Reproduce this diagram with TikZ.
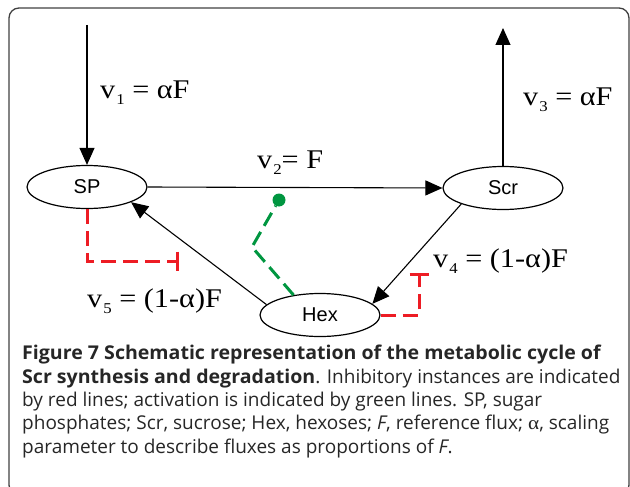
\documentclass[tikz,border=0pt]{standalone}
\usepackage{fontspec}
\setmainfont{Open Sans}[BoldFeatures={FakeStretch=1.03}]
\newfontfamily\labelfont[FakeStretch=1.12]{Liberation Serif}
\newfontfamily\nodefont{Liberation Sans}
\usetikzlibrary{arrows.meta, shapes.geometric}
\definecolor{inhred}{RGB}{237,28,36}
\definecolor{actgreen}{RGB}{0,150,64}
\newcommand{\flux}[2]{v\hspace{1pt}\raisebox{-6pt}{\fontsize{15}{15}\selectfont #1}#2}

\begin{document}
\begin{tikzpicture}[x=1pt, y=-1pt,
  pool/.style={ellipse, draw, line width=1.2pt, minimum width=120pt, minimum height=43pt, inner sep=0pt, font=\nodefont\fontsize{20}{20}\selectfont},
  flow/.style={-{Triangle[length=17pt, width=15pt]}, line width=1.1pt},
  inhib/.style={-{Bar[width=19pt, line width=3pt]}, inhred, line width=3pt, dash pattern=on 15pt off 7pt},
  activ/.style={actgreen, line width=3pt, dash pattern=on 15pt off 7pt},
  rate/.style={font=\labelfont\fontsize{27}{27}\selectfont, inner sep=0pt, anchor=base west}]
  \useasboundingbox (0,0) rectangle (630,487);
  \draw[rounded corners=10pt, line width=1.3pt, black!75] (9,8) rectangle (629,495);

  % pools
  \node[pool] (sp) at (87,187) {SP};
  \node[pool] (scr) at (503,188) {Scr};
  \node[pool] (hex) at (320,315) {Hex};
  \coordinate (src) at (87,25);
  \coordinate (sink) at (503,28);

  % fluxes
  \draw[flow] (src) -- (sp.north);
  \draw[flow] (sp.east) -- (scr.west);
  \draw[flow] (scr.north) -- (sink);
  \draw[flow] (scr.201) -- (hex.12);
  \draw[flow] (hex.169) -- (sp.341);
  \node[rate] (v1) at (100,99) {\flux{1}{ = αF}};
  \node[rate] (v2) at (257,168) {\flux{2}{= F}};
  \node[rate] (v3) at (523,106) {\flux{3}{ = αF}};
  \node[rate] (v4) at (433,267) {\flux{4}{ = (1-α)F}};
  \node[rate] (v5) at (87,307) {\flux{5}{ = (1-α)F}};

  % regulation
  \coordinate (t5) at (179,261);
  \coordinate (t4) at (419,273);
  \coordinate (bend) at (252,247);
  \node[circle, fill=actgreen, minimum size=13pt, inner sep=0pt] (act) at (279,200) {};
  \draw[inhib] (sp.south) |- (t5);
  \draw[inhib] (hex.east) -| (t4);
  \draw[activ] (hex.143) -- (bend) -- (act);

  % caption
  \node[anchor=north west, align=left, inner sep=0pt, text=black!85, font=\fontsize{19}{23.4}\selectfont] (cap) at (22,345) {%
    \textbf{Figure 7 Schematic representation of the metabolic cycle of}\\
    \textbf{Scr synthesis and degradation}. Inhibitory instances are indicated\\
    by red lines; activation is indicated by green lines. SP, sugar\\
    phosphates; Scr, sucrose; Hex, hexoses; \textit{F}, reference flux; {\labelfont α}, scaling\\
    parameter to describe fluxes as proportions of \textit{F}.};
\end{tikzpicture}
\end{document}
